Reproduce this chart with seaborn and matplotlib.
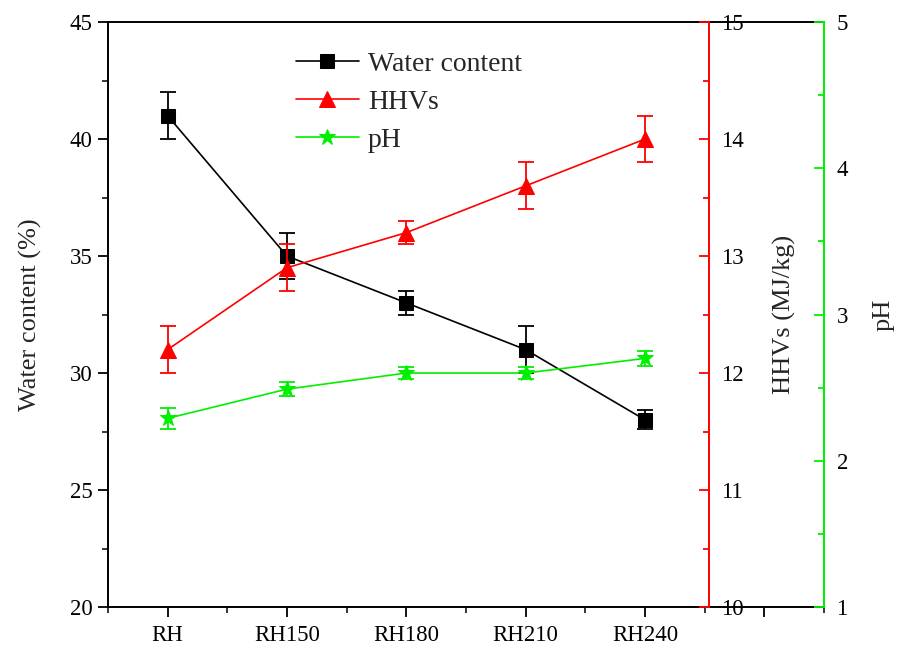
import matplotlib
matplotlib.use('Agg')
import numpy as np
import matplotlib.pyplot as plt
import seaborn as sns
from matplotlib.ticker import MultipleLocator

# values
samples = ['RH', 'RH150', 'RH180', 'RH210', 'RH240']
water = [41.0, 35.0, 33.0, 31.0, 28.0]
water_err = [1.0, 1.0, 0.5, 1.0, 0.4]
hhv = [12.2, 12.9, 13.2, 13.6, 14.0]
hhv_err = [0.2, 0.2, 0.1, 0.2, 0.2]
ph = [2.29, 2.49, 2.60, 2.60, 2.70]
ph_err = [0.07, 0.05, 0.04, 0.04, 0.05]

sns.set_style('ticks')
plt.rcParams['font.family'] = ['Liberation Serif', 'DejaVu Serif']

x = np.arange(1, len(samples) + 1)
RED = '#ff0000'
GREEN = '#00f000'
TICK_FS = 16.5
LABEL_FS = 19

fig = plt.figure(figsize=(8.99, 6.49), dpi=100)
ax = fig.add_axes([0.120, 0.0647, 0.7966, 0.9013])
ax2 = ax.twinx()
ax3 = ax.twinx()

# water content (left axis)
sns.lineplot(x=x, y=water, ax=ax, color='black', marker='s', markersize=10,
             markeredgecolor='black', linewidth=1.2, label='Water content', legend=False)
ax.errorbar(x, water, yerr=water_err, fmt='none', ecolor='black', capsize=6,
            elinewidth=1.3, capthick=1.3)
ax.set_xlim(0.5, 6.5)
ax.set_ylim(20, 45)
ax.set_xticks(list(x) + [6])
ax.set_xticklabels(samples + [''])
ax.set_xticks(np.arange(0.5, 7, 1), minor=True)
ax.yaxis.set_major_locator(MultipleLocator(5))
ax.yaxis.set_minor_locator(MultipleLocator(2.5))
ax.tick_params(axis='both', which='major', direction='out', length=7, width=1.3,
               labelsize=TICK_FS, colors='black')
ax.tick_params(axis='both', which='minor', direction='out', length=4, width=1.3)
ax.tick_params(axis='x', pad=6)
ax.tick_params(axis='y', pad=4)
ax.set_ylabel('Water content (%)', fontsize=LABEL_FS)
ax.yaxis.set_label_coords(-0.092, 0.5)
ax.set_xlabel('')
for s in ['left', 'bottom', 'top']:
    ax.spines[s].set_linewidth(1.4)
    ax.spines[s].set_color('black')
ax.spines['right'].set_visible(False)

# HHVs (inner red axis)
sns.lineplot(x=x, y=hhv, ax=ax2, color=RED, marker='^', markersize=12,
             markeredgecolor=RED, linewidth=1.2, label='HHVs', legend=False)
ax2.errorbar(x, hhv, yerr=hhv_err, fmt='none', ecolor=RED, capsize=6,
             elinewidth=1.3, capthick=1.3)
ax2.set_ylim(10, 15)
ax2.yaxis.set_major_locator(MultipleLocator(1))
ax2.yaxis.set_minor_locator(MultipleLocator(0.5))
ax2.spines['right'].set_position(('axes', 0.839))
ax2.spines['right'].set_color(RED)
ax2.spines['right'].set_linewidth(1.4)
for s in ['left', 'top', 'bottom']:
    ax2.spines[s].set_visible(False)
ax2.tick_params(axis='y', which='major', direction='in', length=7, width=1.3,
                color=RED, labelcolor='black', labelsize=TICK_FS, pad=9)
ax2.tick_params(axis='y', which='minor', direction='in', length=4, width=1.3, color=RED)
ax2.set_ylabel('HHVs (MJ/kg)', fontsize=LABEL_FS)
ax2.yaxis.set_label_coords(0.928, 0.5)

# pH (outer green axis)
sns.lineplot(x=x, y=ph, ax=ax3, color=GREEN, marker='*', markersize=12,
             markeredgecolor=GREEN, linewidth=1.2, label='pH', legend=False)
ax3.errorbar(x, ph, yerr=ph_err, fmt='none', ecolor=GREEN, capsize=6,
             elinewidth=1.3, capthick=1.3)
ax3.set_ylim(1, 5)
ax3.yaxis.set_major_locator(MultipleLocator(1))
ax3.yaxis.set_minor_locator(MultipleLocator(0.5))
ax3.spines['right'].set_color(GREEN)
ax3.spines['right'].set_linewidth(1.4)
for s in ['left', 'top', 'bottom']:
    ax3.spines[s].set_visible(False)
ax3.tick_params(axis='y', which='major', direction='in', length=7, width=1.3,
                color=GREEN, labelcolor='black', labelsize=TICK_FS, pad=9)
ax3.tick_params(axis='y', which='minor', direction='in', length=4, width=1.3, color=GREEN)
ax3.set_ylabel('pH', fontsize=LABEL_FS)
ax3.yaxis.set_label_coords(1.068, 0.5)

handles = [ax.get_lines()[0], ax2.get_lines()[0], ax3.get_lines()[0]]
ax3.legend(handles, ['Water content', 'HHVs', 'pH'], loc='upper left',
           bbox_to_anchor=(0.262, 0.95), frameon=False, fontsize=20,
           borderpad=0, borderaxespad=0, handlelength=2.3, handletextpad=0.3,
           labelspacing=0.45)

fig.savefig('out.png', dpi=100)
